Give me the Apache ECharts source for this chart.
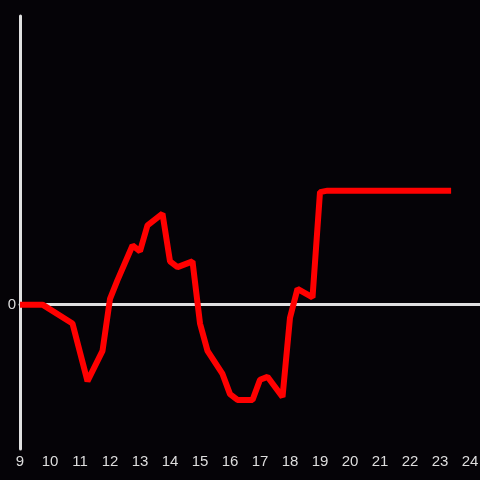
<!DOCTYPE html>
<html>
<head>
<meta charset="utf-8">
<script src="https://cdn.jsdelivr.net/npm/echarts@6/dist/echarts.min.js"></script>
<style>
  html, body { margin: 0; padding: 0; background: #050307; }
  #chart { width: 480px; height: 480px; }
</style>
</head>
<body>
<div id="chart"></div>
<script>
// hours of the day and the value at each one
const hours = [9, 9.75, 10.75, 11.25, 11.75, 12, 12.25, 12.75, 13, 13.25, 13.75, 14, 14.25, 14.75,
  15, 15.25, 15.75, 16, 16.25, 16.75, 17, 17.25, 17.75, 18, 18.25, 18.75, 19, 19.25, 23.37]
const values = [0, 0, -0.13, -0.53, -0.32, 0.04, 0.17, 0.41, 0.37, 0.55, 0.63, 0.3, 0.26, 0.3,
  -0.13, -0.32, -0.48, -0.62, -0.66, -0.66, -0.52, -0.5, -0.64, -0.09, 0.11, 0.05, 0.78, 0.79, 0.79]

const xMin = 9
const xMax = 24.333

const chart = echarts.init(document.getElementById('chart'))

const option = {
  backgroundColor: '#050307',
  animation: false,
  grid: { left: 20, right: 0, top: 16, bottom: 31, outerBoundsMode: 'none' },
  xAxis: [
    {
      type: 'value',
      min: xMin,
      max: xMax,
      interval: 1,
      position: 'bottom',
      axisLine: { show: false, onZero: false },
      axisTick: { show: false },
      splitLine: { show: false },
      axisLabel: {
        color: '#dddddd',
        fontSize: 15,
        fontFamily: 'Liberation Sans',
        margin: 5,
        formatter: v => Number.isInteger(v) ? String(v) : ''
      }
    },
    {
      type: 'value',
      min: xMin,
      max: xMax,
      position: 'bottom',
      axisLine: { show: true, onZero: true, onZeroAxisIndex: 0, lineStyle: { color: '#e0e0e0', width: 3 } },
      axisTick: { show: false },
      axisLabel: { show: false },
      splitLine: { show: false }
    }
  ],
  yAxis: {
    type: 'value',
    min: -1,
    max: 2,
    interval: 1,
    axisLine: { show: true, onZero: false, lineStyle: { color: '#e0e0e0', width: 3 } },
    axisTick: { show: false },
    splitLine: { show: false },
    axisLabel: {
      color: '#dddddd',
      fontSize: 15,
      fontFamily: 'Liberation Sans',
      margin: 4,
      formatter: v => v === 0 ? '0' : ''
    }
  },
  series: [
    {
      type: 'line',
      data: hours.map((h, i) => [h, values[i]]),
      symbol: 'none',
      lineStyle: { color: '#ff0000', width: 6 }
    }
  ]
}

chart.setOption(option)
</script>
</body>
</html>
